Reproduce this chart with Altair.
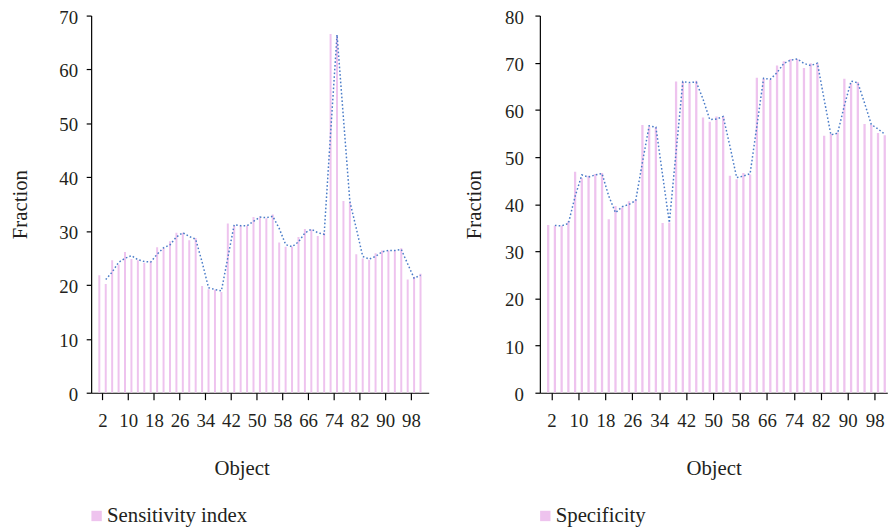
import altair as alt
import pandas as pd

# Object numbers (one bar every second object) and axis ticks
objects = list(range(1, 102, 2))
x_ticks = [2, 10, 18, 26, 34, 42, 50, 58, 66, 74, 82, 90, 98]
y_ticks_left = [0, 10, 20, 30, 40, 50, 60, 70]
y_ticks_right = [0, 10, 20, 30, 40, 50, 60, 70, 80]

sensitivity = [21.8, 20.2, 24.6, 23.8, 26.1, 24.8, 24.6, 24.1, 24.4, 27.0,
               26.8, 28.1, 29.7, 29.7, 28.3, 28.7, 19.8, 19.2, 19.1, 18.7,
               31.4, 31.0, 31.0, 31.0, 32.6, 32.6, 32.4, 33.1, 27.9, 27.1,
               27.1, 28.9, 30.4, 30.3, 29.1, 29.7, 66.6, 66.3, 35.6, 35.3,
               25.7, 24.9, 24.7, 25.9, 26.4, 26.4, 26.4, 26.8, 21.0, 21.5, 22.1]

specificity = [35.6, 35.4, 35.4, 36.4, 46.9, 45.5, 46.0, 46.4, 46.6, 36.8,
               39.6, 39.3, 40.6, 40.9, 56.8, 56.4, 56.3, 36.0, 36.1, 66.0,
               66.0, 65.6, 66.2, 58.4, 57.5, 58.6, 58.6, 46.0, 45.3, 46.6,
               46.3, 66.8, 66.6, 66.4, 69.4, 70.3, 70.8, 70.8, 68.9, 69.9,
               69.9, 54.5, 54.9, 55.2, 66.6, 65.6, 65.9, 57.0, 56.8, 55.1, 54.6]

PINK = "#EEC3EE"
BLUE = "#4A7CC8"
FONT = "Liberation Serif"
TEXT = "#231F20"
H = 381


def panel(values, label, width, xmax, ymax, yticks, bar_size,
          lab_pad, title_pad, title_x=None):
    df = pd.DataFrame({"Object": objects, "Fraction": values, "series": label})
    base = alt.Chart(df)

    xaxis_kw = dict(values=x_ticks, tickCount=40, title="Object", tickSize=7,
                    labelPadding=12, titlePadding=27.5, labelOverlap=False,
                    labelAngle=0)
    if title_x is not None:
        xaxis_kw["titleX"] = title_x
    x = alt.X("Object:Q", scale=alt.Scale(domain=[0, xmax], nice=False, zero=False),
              axis=alt.Axis(**xaxis_kw))
    y = alt.Y("Fraction:Q", scale=alt.Scale(domain=[0, ymax], nice=False),
              axis=alt.Axis(values=yticks, tickCount=20, title="Fraction",
                            tickSize=5, labelPadding=lab_pad,
                            titlePadding=title_pad, labelOffset=1.5,
                            labelOverlap=False))

    bars = base.mark_bar(size=bar_size, clip=True).encode(
        x=x,
        y=y,
        color=alt.Color("series:N", scale=alt.Scale(range=[PINK]),
                        legend=alt.Legend(title=None, orient="none",
                                          legendX=-5, legendY=H + 114,
                                          symbolType="square", symbolSize=110,
                                          symbolStrokeWidth=0, symbolOpacity=1,
                                          labelFontSize=21, labelFont=FONT,
                                          labelColor=TEXT, labelOffset=0,
                                          padding=0)),
    )

    # 2-period moving-average trendline, computed by Vega-Lite from the bars
    line = (
        base.transform_window(
            ma="mean(Fraction)", rn="row_number()",
            frame=[-1, 0], sort=[alt.SortField("Object")])
        .transform_filter("datum.rn > 1")
        .mark_line(color=BLUE, strokeDash=[1.6, 2.2], strokeWidth=1.5, clip=True)
        .encode(x=alt.X("Object:Q", title="Object"),
                y=alt.Y("ma:Q", title="Fraction"))
    )
    return alt.layer(bars, line).properties(width=width, height=H)


left = panel(sensitivity, "Sensitivity index", 341, 102, 70, y_ticks_left, 2,
             8.7, 28.3, title_x=152)
right = panel(specificity, "Specificity", 351, 100.29, 80, y_ticks_right, 2.3,
              11.7, 20.6)

chart = (
    alt.hconcat(left, right, spacing=34.3)
    .resolve_scale(color="independent", x="independent", y="independent")
    .resolve_legend(color="independent")
    .properties(padding={"top": -3, "left": 2, "right": 0, "bottom": 0})
    .configure_view(stroke=None)
    .configure_axis(grid=False, domainColor="#000000", tickColor="#000000",
                    domainWidth=1.2, tickWidth=1.2,
                    labelFont=FONT, titleFont=FONT, labelFontSize=19,
                    titleFontSize=21, titleFontWeight="normal",
                    labelColor=TEXT, titleColor=TEXT)
)

chart.save("out.html", embed_options={"renderer": "svg", "actions": False})
